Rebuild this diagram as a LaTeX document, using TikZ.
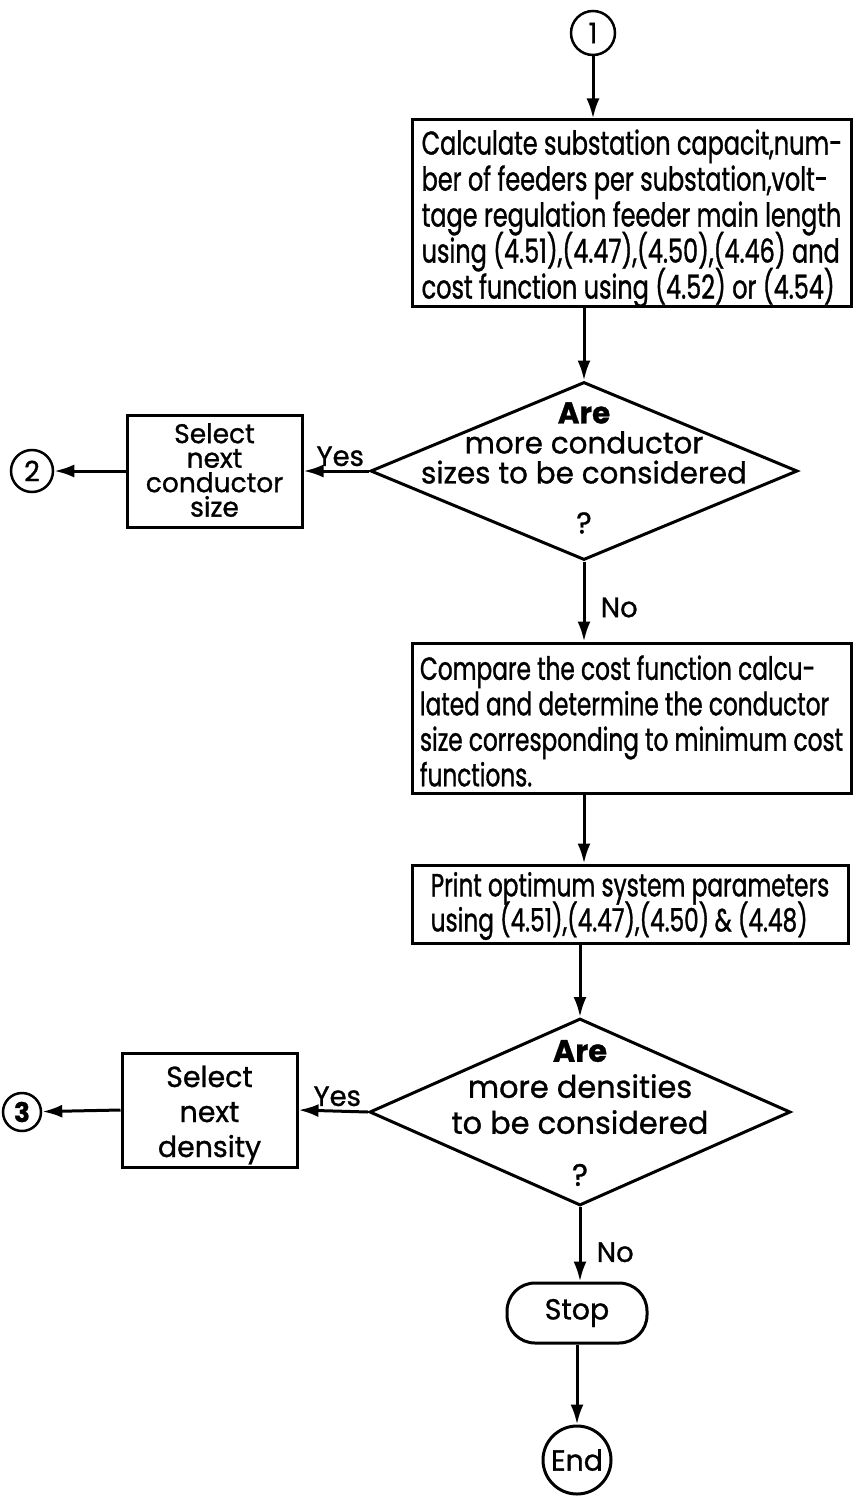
\documentclass[tikz,border=0pt]{standalone}
\usepackage{fontspec}
\setmainfont{Poppins}[FakeStretch=0.725,FakeBold=1]
\newfontfamily\widefont{Poppins}[FakeStretch=0.98,FakeBold=1]
\usetikzlibrary{shapes.geometric,arrows.meta}
\setlength{\lineskiplimit}{-40pt}
\tikzstyle{process box}    = [rectangle,draw,line width=3pt,inner sep=0pt]
\tikzstyle{decision node}  = [diamond,draw,line width=3pt,inner sep=0pt]
\tikzstyle{connector node} = [circle,draw,line width=2.5pt,inner sep=0pt]
\tikzstyle{box text}       = [align=left,inner sep=0pt]
\tikzstyle{wide text}      = [align=center,inner sep=0pt]
\tikzstyle{flow}           = [line width=3pt,-{Latex[length=20pt,width=13pt]}]

\begin{document}
\begin{tikzpicture}[x=1pt,y=-1pt,font=\fontsize{33}{36}\selectfont]
    \useasboundingbox (0,0) rectangle (858,1503);

    % Entry connector
    \node(1)[connector node, minimum size=44, font=\widefont\fontsize{28}{28}\selectfont]at(593,33){1};

    % Substation and feeder calculation
    \node(calc)[process box, minimum width=439, minimum height=187,
        label={[box text, yshift=-5]center:{%
        Calculate substation capacit,num-\\
        ber of feeders per substation,volt-\\
        tage regulation feeder main length\\
        using (4.51),(4.47),(4.50),(4.46) and\\
        cost function using (4.52) or (4.54)}}]at(632,213.5){};

    % Conductor size decision
    \node(dec1)[decision node, minimum width=427, minimum height=178,
        label={[wide text, yshift=3, font=\widefont\fontsize{30}{30}\selectfont]center:{%
        {\bfseries Are}\\more conductor\\sizes to be considered\\[20pt]?}}]at(584,471){};
    \node(sel1)[process box, minimum width=175, minimum height=112,
        label={[wide text, yshift=1, font=\widefont\fontsize{27}{24.5}\selectfont]center:{%
        Select\\next\\conductor\\size}}]at(214.5,471){};
    \node(2)[connector node, minimum size=42, font=\widefont\fontsize{28}{28}\selectfont]at(32,471){2};

    % Comparison of cost functions
    \node(cmp)[process box, minimum width=439, minimum height=150,
        label={[box text, yshift=-3, font=\fontsize{32}{35.5}\selectfont]center:{%
        Compare the cost function calcu-\\
        lated and determine the conductor\\
        size corresponding to minimum cost\\
        functions.}}]at(631.5,718){};

    % Output of parameters
    \node(prt)[process box, minimum width=436, minimum height=78,
        label={[box text, yshift=-2, font=\fontsize{32}{35}\selectfont]center:{%
        Print optimum system parameters\\
        using (4.51),(4.47),(4.50)\,\& (4.48)}}]at(630,904){};

    % Density decision
    \node(dec2)[decision node, minimum width=421, minimum height=187,
        label={[wide text, yshift=-1, font=\widefont\fontsize{31}{36}\selectfont]center:{%
        {\bfseries Are}\\more densities\\to be considered\\[16pt]?}}]at(580,1112){};
    \node(sel2)[process box, minimum width=175, minimum height=114,
        label={[wide text, yshift=-5, font=\widefont\fontsize{29}{35}\selectfont]center:{%
        Select\\next\\density}}]at(209.5,1110){};
    \node(3)[connector node, minimum size=38, font=\widefont\fontsize{27}{27}\selectfont\bfseries]at(22,1112){3};

    % Terminals
    \node(stop)[rectangle, draw, line width=3pt, rounded corners=28, minimum width=140,
        minimum height=60, font=\widefont\fontsize{29}{29}\selectfont]at(577,1313){Stop};
    \node(end)[connector node, line width=3pt, minimum size=68, font=\widefont\fontsize{29}{29}\selectfont]at(577,1460){End};

    % Connectors
    \draw[flow](1)--(1|-calc.north);
    \draw[flow](dec1.north|-calc.south)--(dec1.north);
    \draw[flow](dec1.west)--node[above, xshift=4, font=\widefont\fontsize{28}{28}\selectfont]{Yes}(sel1.east);
    \draw[flow](sel1.west)--(2);
    \draw[flow](dec1.south)--node[right, xshift=12, yshift=-6, font=\widefont\fontsize{28}{28}\selectfont]{No}(dec1.south|-cmp.north);
    \draw[flow](cmp.south-|dec1.south)--(prt.north-|dec1.south);
    \draw[flow](prt.south-|dec2.north)--(dec2.north);
    \draw[flow](dec2.west)--node[above, xshift=4, font=\widefont\fontsize{28}{28}\selectfont]{Yes}(sel2.east);
    \draw[flow](sel2.west)--(3);
    \draw[flow](dec2.south)--node[right, xshift=12, yshift=-8, font=\widefont\fontsize{28}{28}\selectfont]{No}(dec2.south|-stop.north);
    \draw[flow](stop)--(end);

\end{tikzpicture}
\end{document}
